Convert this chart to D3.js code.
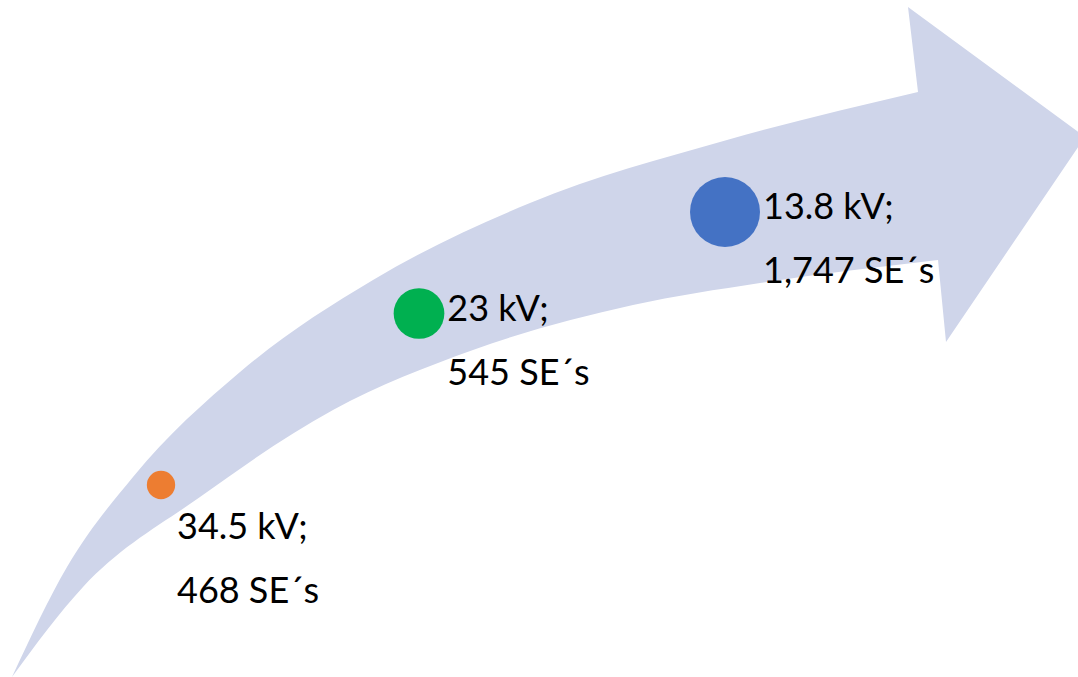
<!DOCTYPE html>
<html>
<head>
<meta charset="utf-8">
<script src="https://cdn.jsdelivr.net/npm/d3@7"></script>
<style>
  html, body { margin: 0; padding: 0; background: #ffffff; }
  svg { display: block; }
</style>
</head>
<body>
<div id="chart"></div>
<script>
// Bubble data (chart units)
const voltages = ["34.5 kV;", "23 kV;", "13.8 kV;"];
const substations = ["468 SE´s", "545 SE´s", "1,747 SE´s"];
const xValues = [1.61, 4.19, 7.25];
const yValues = [1.92, 3.635, 4.65];
const bubbleSizes = [1, 3.2, 6.1];
const colors = ["#ED7D31", "#00B050", "#4472C4"];

// Background arrow outline (chart units)
const arrowUpper = [[0.12, 0], [0.67, 1.10], [1.33, 2.00], [2.40, 3.05], [3.73, 3.97],
  [5.30, 4.74], [7.27, 5.37], [9.18, 5.85]];
const arrowHead = [[9.08, 6.70], [10.85, 5.40], [9.46, 3.35], [9.38, 4.17]];
const arrowLower = [[0.12, 0], [0.83, 0.90], [2.00, 1.80], [3.33, 2.67], [4.73, 3.27],
  [6.33, 3.72], [7.60, 3.94], [9.38, 4.17]];

const width = 1078;
const height = 677;

const svg = d3.select("#chart")
  .append("svg")
  .attr("width", width)
  .attr("height", height);

const x = d3.scaleLinear().domain([0, 10.78]).range([0, width]);
const y = d3.scaleLinear().domain([0, 6.77]).range([height, 0]);
const r = d3.scaleSqrt().domain([0, d3.max(bubbleSizes)]).range([0, 35]);

// arrow: upper edge, head, lower edge back to the tail
const edge = d3.line()
  .x(d => x(d[0]))
  .y(d => y(d[1]))
  .curve(d3.curveMonotoneX);

const upperPath = edge(arrowUpper);
const headPath = arrowHead.map(d => `L${x(d[0])},${y(d[1])}`).join("");
// draw lower edge left-to-right, then reverse it by using a reversed copy
const edgeRev = d3.line()
  .x(d => x(d[0]))
  .y(d => y(d[1]))
  .curve(d3.curveMonotoneX);
const lowerPath = edgeRev(arrowLower.slice().reverse()).replace(/^M/, "L");

svg.append("path")
  .attr("d", upperPath + headPath + lowerPath + "Z")
  .attr("fill", "#CFD5EA");

const data = voltages.map((v, i) => ({
  volt: v, se: substations[i], x: xValues[i], y: yValues[i], size: bubbleSizes[i], color: colors[i]
}));

svg.selectAll("circle.bubble")
  .data(data)
  .enter()
  .append("circle")
  .attr("class", "bubble")
  .attr("cx", d => x(d.x))
  .attr("cy", d => y(d.y))
  .attr("r", d => r(d.size))
  .attr("fill", d => d.color);

// labels: first one sits below the bubble, the others to the right
const labelBelow = [true, false, false];

const labels = svg.selectAll("text.label")
  .data(data)
  .enter()
  .append("text")
  .attr("class", "label")
  .attr("font-family", "Lato, 'Open Sans', sans-serif")
  .attr("font-size", 36)
  .attr("fill", "#000000");

labels.each(function(d, i) {
  const t = d3.select(this);
  const lx = labelBelow[i] ? x(d.x) + 16 : x(d.x) + r(d.size) + 3;
  const ly = labelBelow[i] ? y(d.y) + 54 : y(d.y) + 7;
  t.append("tspan").attr("x", lx).attr("y", ly).text(d.volt);
  t.append("tspan").attr("x", lx).attr("y", ly + 64).text(d.se);
});
</script>
</body>
</html>
